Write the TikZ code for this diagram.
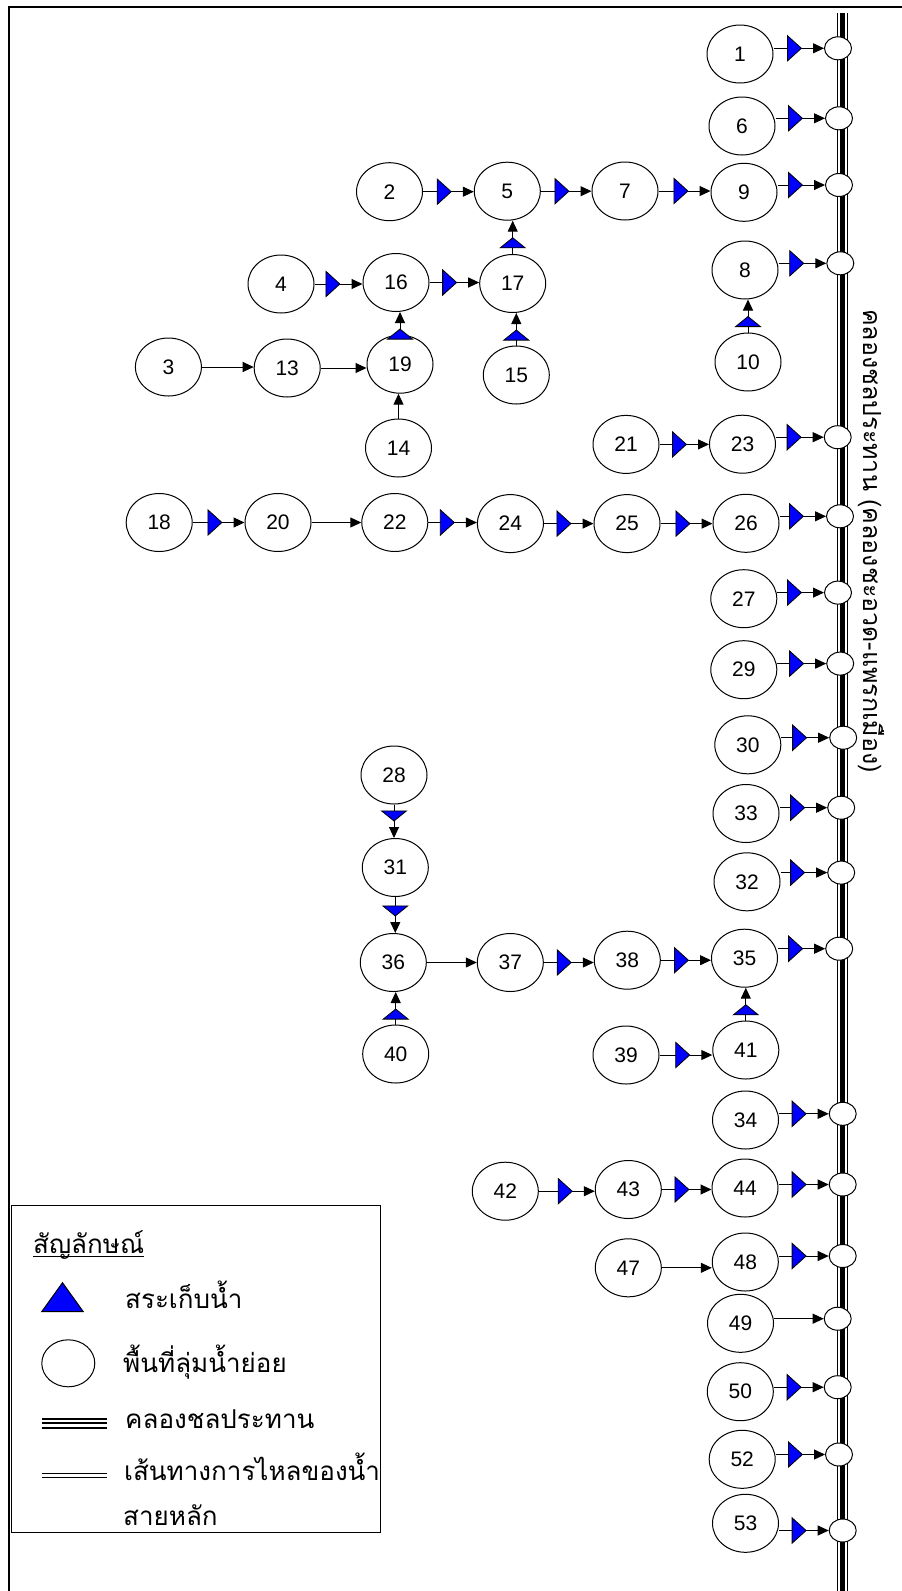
\documentclass[tikz,border=0pt]{standalone}
\usepackage{fontspec}
\usetikzlibrary{shapes.geometric, arrows.meta, decorations.markings}
\newfontfamily\numfont{Liberation Sans}
\newfontfamily\thaifont[Script=Thai]{Loma}
\begin{document}
\begin{tikzpicture}[x=1pt,y=-1pt,
  sub/.style={ellipse, draw, line width=1pt, minimum width=66pt, minimum height=58pt, inner sep=0pt, fill=white, font=\numfont\fontsize{21}{21}\selectfont},
  jn/.style={ellipse, draw, line width=1pt, minimum width=27pt, minimum height=23pt, inner sep=0pt, fill=white},
  flow/.style={line width=1pt, -{Triangle[length=11pt,width=10pt]}},
  hdam/.style={postaction={decorate, decoration={markings, mark=at position -22pt with {\arrow{Triangle[length=15pt,width=27pt,fill=blue,line width=0.8pt]}}}}},
  vdam/.style={postaction={decorate, decoration={markings, mark=at position -16.5pt with {\arrow{Triangle[length=11pt,width=27pt,fill=blue,line width=0.8pt]}}}}},
  thai/.style={font=\thaifont\fontsize{#1}{#1}\selectfont, inner sep=0pt},
]
\useasboundingbox (0,0) rectangle (902,1591);
% frame
\draw[line width=2pt] (8.5,1591) -- (8.5,7) -- (902,7);
% canal
\coordinate (ctop) at (842.5,13);
\coordinate (cbot) at (842.5,1591);
\draw[line width=1.8pt] ([xshift=-5pt]ctop) -- ([xshift=-5pt]cbot);
\draw[line width=4.2pt] (ctop) -- (cbot);
\draw[line width=1.8pt] ([xshift=5pt]ctop) -- ([xshift=5pt]cbot);
\node[thai=25, rotate=-90, anchor=west] (vt) at (871,309) {คลองชลประทาน (คลองชะอวด-แพรกเมือง)};

% sub-basins
\node[sub] (n1) at (740,54) {1};
\node[sub] (n6) at (742,126) {6};
\node[sub] (n2) at (389.5,191.7) {2};
\node[sub] (n5) at (507.3,191.2) {5};
\node[sub] (n7) at (625,191) {7};
\node[sub] (n9) at (744,192.3) {9};
\node[sub] (n8) at (745,270) {8};
\node[sub] (n4) at (281,284) {4};
\node[sub] (n16) at (396,282.5) {16};
\node[sub] (n17) at (512.7,283.5) {17};
\node[sub] (n3) at (168.4,367) {3};
\node[sub] (n13) at (287.2,368) {13};
\node[sub] (n19) at (400,364.2) {19};
\node[sub] (n15) at (516.3,375) {15};
\node[sub] (n10) at (748,362) {10};
\node[sub] (n14) at (398.5,448) {14};
\node[sub] (n21) at (626,444.4) {21};
\node[sub] (n23) at (742.5,444.2) {23};
\node[sub] (n18) at (159.2,522.5) {18};
\node[sub] (n20) at (278,522.5) {20};
\node[sub] (n22) at (394.8,522.5) {22};
\node[sub] (n24) at (510.4,523.6) {24};
\node[sub] (n25) at (627,523.6) {25};
\node[sub] (n26) at (746,523.3) {26};
\node[sub] (n27) at (743.8,598.7) {27};
\node[sub] (n29) at (743.8,669.7) {29};
\node[sub] (n30) at (747.8,744.8) {30};
\node[sub] (n28) at (394,775) {28};
\node[sub] (n33) at (746,813.5) {33};
\node[sub] (n31) at (395.3,867.5) {31};
\node[sub] (n32) at (747,881.8) {32};
\node[sub] (n36) at (393.3,962.5) {36};
\node[sub] (n37) at (510.3,962.5) {37};
\node[sub] (n38) at (627.3,960.2) {38};
\node[sub] (n35) at (744.5,958.2) {35};
\node[sub] (n40) at (395.7,1054) {40};
\node[sub] (n39) at (626,1055) {39};
\node[sub] (n41) at (745.8,1050) {41};
\node[sub] (n34) at (745.5,1120) {34};
\node[sub] (n42) at (505.3,1191.2) {42};
\node[sub] (n43) at (628.3,1189.5) {43};
\node[sub] (n44) at (745,1188) {44};
\node[sub] (n47) at (628.3,1267.8) {47};
\node[sub] (n48) at (745.3,1262) {48};
\node[sub] (n49) at (740.5,1323.3) {49};
\node[sub] (n50) at (740.3,1391.7) {50};
\node[sub] (n52) at (742.2,1459.3) {52};
\node[sub] (n53) at (745.5,1523.3) {53};

% junction points on the canal
\coordinate (j1) at (838,48.3);
\coordinate (j6) at (839,118.3);
\coordinate (j9) at (839,185);
\coordinate (j8) at (840.3,263.3);
\coordinate (j23) at (837.7,437.2);
\coordinate (j26) at (840,516.3);
\coordinate (j27) at (838,592.6);
\coordinate (j29) at (840.2,663.6);
\coordinate (j30) at (843.2,737.7);
\coordinate (j33) at (841.2,807.7);
\coordinate (j32) at (841.2,872.6);
\coordinate (j35) at (839.2,948.7);
\coordinate (j34) at (842.7,1113.8);
\coordinate (j44) at (842.7,1184.5);
\coordinate (j48) at (842.7,1256);
\coordinate (j49) at (837.7,1318.7);
\coordinate (j50) at (837.7,1387.2);
\coordinate (j52) at (839,1454.5);
\coordinate (j53) at (842.7,1530.5);
\foreach \j in {1,6,9,8,23,26,27,29,30,33,32,35,34,44,48,49,50,52,53}
  \node[jn] (J\j) at (j\j) {};

% connectors to the canal
\foreach \a in {1,6,9,8,23,26,27,29,30,33,32,35,34,44,48,50,52,53}
  \draw[flow,hdam] (J\a -| n\a.east) -- (J\a.west);
\draw[flow] (J49 -| n49.east) -- (J49.west);

% horizontal connectors with reservoir
\foreach \a/\b in {2/5,5/7,7/9,4/16,16/17,21/23,18/20,22/24,24/25,25/26,37/38,38/35,39/41,42/43,43/44}
  \draw[flow,hdam] (n\a.east) -- (n\a.east -| n\b.west);
% plain horizontal connectors
\foreach \a/\b in {3/13,13/19,20/22,36/37,47/48}
  \draw[flow] (n\a.east) -- (n\a.east -| n\b.west);
% vertical upward connectors with reservoir
\foreach \a/\b in {10/8,17/5,15/17,19/16,40/36,41/35}
  \draw[flow,vdam] (n\a.north) -- (n\a.north |- n\b.south);
\draw[flow] (n14.north) -- (n14.north |- n19.south);
% vertical downward connectors with reservoir
\foreach \a/\b in {28/31,31/36}
  \draw[flow,vdam] (n\a.south) -- (n\a.south |- n\b.north);

% legend
\draw[line width=1pt] (11,1205.5) rectangle (380.5,1532);
\node[thai=26, anchor=base west] (lt) at (33,1253) {สัญลักษณ์};
\draw[line width=1pt] ([yshift=-3pt]lt.base west) -- ([yshift=-3pt]lt.base east);
\draw[fill=blue, line width=1pt] (41.7,1311.7) -- (62.5,1282.7) -- (83.3,1311.7) -- cycle;
\node[ellipse, draw, line width=1pt, minimum width=53pt, minimum height=47pt, inner sep=0pt] (le) at (68.3,1363.3) {};
\draw[line width=2pt] (41.7,1418.7) -- (107.3,1418.7);
\draw[line width=2.2pt] (41.7,1423.2) -- (107.3,1423.2);
\draw[line width=2pt] (41.7,1427.7) -- (107.3,1427.7);
\draw[line width=1.5pt] (41.7,1473.5) -- (107.3,1473.5);
\draw[line width=1.5pt] (41.7,1477.5) -- (107.3,1477.5);
\node[thai=26, anchor=base west] (l1) at (125,1308) {สระเก็บน้ำ};
\node[thai=26, anchor=base west] (l2) at (123,1372.7) {พื้นที่ลุ่มน้ำย่อย};
\node[thai=26, anchor=base west] (l3) at (125,1428.3) {คลองชลประทาน};
\node[thai=26, anchor=base west] (l4) at (124,1480) {เส้นทางการไหลของน้ำ};
\node[thai=26, anchor=base west] (l5) at (123,1525) {สายหลัก};
\end{tikzpicture}
\end{document}
